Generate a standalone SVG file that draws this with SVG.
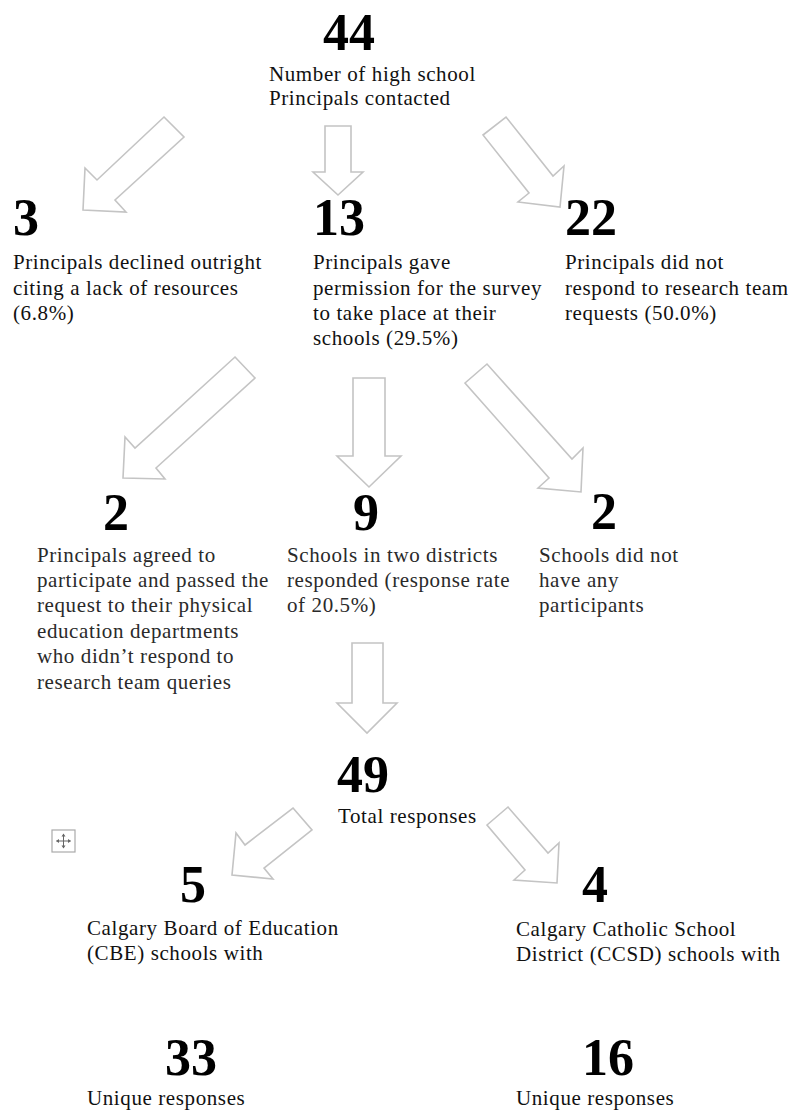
<svg xmlns="http://www.w3.org/2000/svg" width="791" height="1112" viewBox="0 0 791 1112">
<style>
.num{font-family:"Liberation Serif","Times New Roman",serif;font-weight:bold;font-size:52px;fill:#000}
.cap{font-family:"Liberation Serif","Times New Roman",serif;font-size:21px;letter-spacing:0.6px;fill:#111}
.cap2{font-family:"Liberation Serif","Times New Roman",serif;font-size:21px;letter-spacing:0.6px;fill:#2a2a2a}
.arr{fill:#fff;stroke:#c4c4c4;stroke-width:1.6;stroke-linejoin:miter}
</style>
<rect width="791" height="1112" fill="#fff"/>
<g id="connectors">
<polygon class="arr" points="164,117 184,137 115,200 126,212 83,210 85,168 97,180"/>
<polygon class="arr" points="325,126 351,126 351,172 363,172 338,195 313,172 325,172"/>
<polygon class="arr" points="483,135 506,117 553,176 564,166 560,207 518,202 529,193"/>
<polygon class="arr" points="235,357 255,378 156,468 165,479 123,478 125,437 135,448"/>
<polygon class="arr" points="353,378 385,378 385,456 401,456 369,487 337,456 353,456"/>
<polygon class="arr" points="465,383 487,364 572,459 583,448 581,492 538,488 549,478"/>
<polygon class="arr" points="352,643 383,643 383,703 397,703 367,733 337,703 352,703"/>
<polygon class="arr" points="293,808 312,830 264,868 273,879 232,875 236,833 245,845"/>
<polygon class="arr" points="487,825 508,807 548,853 559,843 557,883 514,880 525,870"/>
</g>
<g id="node-44">
<text class="num" x="323" y="50">44</text>
<text class="cap" x="269" y="81">Number of high school</text>
<text class="cap" x="269" y="105">Principals contacted</text>
</g>
<g id="node-3">
<text class="num" x="13" y="235">3</text>
<text class="cap" x="13" y="269">Principals declined outright</text>
<text class="cap" x="13" y="295">citing a lack of resources</text>
<text class="cap" x="13" y="320">(6.8%)</text>
</g>
<g id="node-13">
<text class="num" x="313" y="235">13</text>
<text class="cap" x="313" y="269">Principals gave</text>
<text class="cap" x="313" y="295">permission for the survey</text>
<text class="cap" x="313" y="320">to take place at their</text>
<text class="cap" x="313" y="345">schools (29.5%)</text>
</g>
<g id="node-22">
<text class="num" x="565" y="235">22</text>
<text class="cap" x="565" y="269">Principals did not</text>
<text class="cap" x="565" y="295">respond to research team</text>
<text class="cap" x="565" y="320">requests (50.0%)</text>
</g>
<g id="node-2a">
<text class="num" x="103" y="530">2</text>
<text class="cap2" x="37" y="562">Principals agreed to</text>
<text class="cap2" x="37" y="587">participate and passed the</text>
<text class="cap2" x="37" y="612">request to their physical</text>
<text class="cap2" x="37" y="638">education departments</text>
<text class="cap2" x="37" y="663">who didn’t respond to</text>
<text class="cap2" x="37" y="689">research team queries</text>
</g>
<g id="node-9">
<text class="num" x="353" y="530">9</text>
<text class="cap2" x="287" y="562">Schools in two districts</text>
<text class="cap2" x="287" y="587">responded (response rate</text>
<text class="cap2" x="287" y="612">of 20.5%)</text>
</g>
<g id="node-2b">
<text class="num" x="591" y="529">2</text>
<text class="cap2" x="539" y="562">Schools did not</text>
<text class="cap2" x="539" y="587">have any</text>
<text class="cap2" x="539" y="612">participants</text>
</g>
<g id="node-49">
<text class="num" x="337" y="792">49</text>
<text class="cap" x="338" y="823">Total responses</text>
</g>
<g id="move-handle">
<rect x="52" y="830" width="23" height="22" fill="#fff" stroke="#aaa" stroke-width="1.2"/>
<path d="M63.5 834 V848 M56.5 841 H70.5" stroke="#666" stroke-width="1"/>
<path d="M63.5 833.5 L61.5 836.5 H65.5 Z M63.5 848.5 L61.5 845.5 H65.5 Z M56 841 L59 839 V843 Z M71 841 L68 839 V843 Z" fill="#666"/>
</g>
<g id="node-5">
<text class="num" x="180" y="902">5</text>
<text class="cap" x="87" y="935">Calgary Board of Education</text>
<text class="cap" x="87" y="960">(CBE) schools with</text>
</g>
<g id="node-4">
<text class="num" x="582" y="902">4</text>
<text class="cap" x="516" y="936">Calgary Catholic School</text>
<text class="cap" x="516" y="961">District (CCSD) schools with</text>
</g>
<g id="node-33">
<text class="num" x="165" y="1075">33</text>
<text class="cap" x="87" y="1105">Unique responses</text>
</g>
<g id="node-16">
<text class="num" x="582" y="1075">16</text>
<text class="cap" x="516" y="1105">Unique responses</text>
</g>
</svg>
